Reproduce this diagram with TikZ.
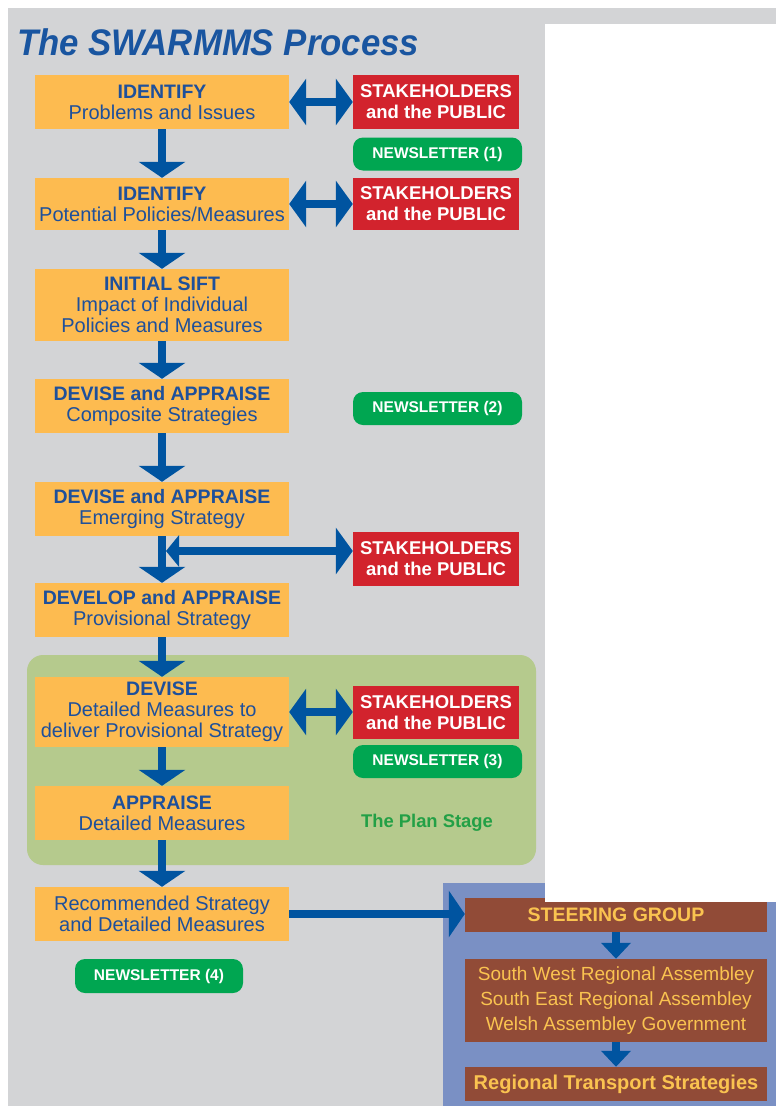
\documentclass[tikz,border=0pt]{standalone}
\usepackage{fontspec}
\setmainfont{Liberation Sans}
\usetikzlibrary{arrows.meta}
\definecolor{bggray}{RGB}{211,212,214}
\definecolor{boxorange}{RGB}{253,187,80}
\definecolor{txtblue}{RGB}{30,80,155}
\definecolor{arrblue}{RGB}{0,84,160}
\definecolor{stkred}{RGB}{210,35,45}
\definecolor{nlgreen}{RGB}{0,166,81}
\definecolor{planfill}{RGB}{181,202,141}
\definecolor{plantext}{RGB}{35,160,70}
\definecolor{sgblue}{RGB}{122,144,196}
\definecolor{sgbrown}{RGB}{145,75,55}
\definecolor{sgtext}{RGB}{250,195,80}
\definecolor{titleblue}{RGB}{25,85,160}
\newcommand\boxhead[1]{{\bfseries\fontsize{19.5}{21}\selectfont #1}}
\begin{document}
\begin{tikzpicture}[x=1pt,y=-1pt,
 procbox/.style={fill=boxorange, text=txtblue, minimum width=254pt, inner sep=0pt, align=center, font=\fontsize{20}{21}\selectfont},
 stakebox/.style={fill=stkred, text=white, minimum width=166pt, minimum height=54pt, inner sep=0pt, align=center, font=\bfseries\fontsize{18.5}{21}\selectfont},
 newsbox/.style={fill=nlgreen, text=white, rounded corners=10pt, minimum width=169pt, minimum height=33pt, inner sep=0pt, font=\bfseries\fontsize{15.5}{17}\selectfont},
 sgbox/.style={fill=sgbrown, text=sgtext, minimum width=302pt, inner sep=0pt, align=center, font=\fontsize{19}{25}\selectfont},
 flow/.style={draw=arrblue, line width=8pt, -{Triangle[width=46pt,length=16pt]}},
 both/.style={draw=arrblue, line width=8pt, {Triangle[width=46pt,length=17pt]}-{Triangle[width=46pt,length=17pt]}},
 tee/.style={draw=arrblue, line width=8pt, {Triangle[width=31pt,length=13pt]}-{Triangle[width=46pt,length=17pt]}},
 smallflow/.style={draw=arrblue, line width=8pt, -{Triangle[width=29pt,length=16pt]}},
]
\useasboundingbox (0,0) rectangle (776,1106);
\fill[white] (0,0) rectangle (776,1106);
\fill[bggray] (8,8) rectangle (776,1106);
\fill[planfill, rounded corners=16pt] (27,655) rectangle (536,865);
\fill[sgblue] (443,883) rectangle (776,1106);

\node[anchor=base west, text=titleblue, inner sep=0pt] (title) at (17,55)
  {\scalebox{0.94}[1]{\fontsize{37}{40}\selectfont\bfseries\itshape The SWARMMS Process}};

% process column
\node[procbox, minimum height=54pt] (p1) at (162,102) {\boxhead{IDENTIFY}\\Problems and Issues};
\node[procbox, minimum height=52pt] (p2) at (162,204) {\boxhead{IDENTIFY}\\Potential Policies/Measures};
\node[procbox, minimum height=72pt] (p3) at (162,305) {\boxhead{INITIAL SIFT}\\Impact of Individual\\Policies and Measures};
\node[procbox, minimum height=54pt] (p4) at (162,406) {\boxhead{DEVISE and APPRAISE}\\Composite Strategies};
\node[procbox, minimum height=54pt] (p5) at (162,509) {\boxhead{DEVISE and APPRAISE}\\Emerging Strategy};
\node[procbox, minimum height=54pt] (p6) at (162,610) {\boxhead{DEVELOP and APPRAISE}\\Provisional Strategy};
\node[procbox, minimum height=70pt] (p7) at (162,712) {\boxhead{DEVISE}\\Detailed Measures to\\deliver Provisional Strategy};
\node[procbox, minimum height=54pt] (p8) at (162,813) {\boxhead{APPRAISE}\\Detailed Measures};
\node[procbox, minimum height=54pt] (p9) at (162,914) {Recommended Strategy\\and Detailed Measures};

% stakeholders
\node[stakebox] (r1) at (436,102) {STAKEHOLDERS\\and the PUBLIC};
\node[stakebox, minimum height=52pt] (r2) at (436,204) {STAKEHOLDERS\\and the PUBLIC};
\node[stakebox] (r3) at (436,559) {STAKEHOLDERS\\and the PUBLIC};
\node[stakebox, minimum height=53pt] (r4) at (436,712.5) {STAKEHOLDERS\\and the PUBLIC};

% newsletters
\node[newsbox] (n1) at (437.5,154) {NEWSLETTER (1)};
\node[newsbox] (n2) at (437.5,408.5) {NEWSLETTER (2)};
\node[newsbox] (n3) at (437.5,761.5) {NEWSLETTER (3)};
\node[newsbox, minimum width=168pt, minimum height=34pt] (n4) at (159,976) {NEWSLETTER (4)};

\node[text=plantext, inner sep=0pt, font=\bfseries\fontsize{18.4}{20}\selectfont] (plan) at (427,823) {The Plan Stage};

% steering group
\node[sgbox, minimum height=34pt, font=\bfseries\fontsize{19.5}{21}\selectfont] (s1) at (616,915) {STEERING GROUP};
\node[sgbox, minimum height=83pt] (s2) at (616,1000.5) {South West Regional Assembley\\South East Regional Assembley\\Welsh Assembley Government};
\node[sgbox, minimum height=34pt, font=\bfseries\fontsize{20}{21}\selectfont] (s3) at (616,1084) {Regional Transport Strategies};

% connectors
\draw[flow] (p1.south) -- (p2.north);
\draw[flow] (p2.south) -- (p3.north);
\draw[flow] (p3.south) -- (p4.north);
\draw[flow] (p4.south) -- (p5.north);
\draw[flow] (p5.south) -- (p6.north);
\draw[flow] (p6.south) -- (p7.north);
\draw[flow] (p7.south) -- (p8.north);
\draw[flow] (p8.south) -- (p9.north);

\draw[both] (p1.east) -- (r1.west);
\draw[both] (p2.east) -- (r2.west);
\coordinate (j5) at (166,551);
\draw[tee] (j5) -- (j5 -| r3.west);
\draw[both] (p7.east) -- (p7.east -| r4.west);

\draw[flow] (p9.east) -- (p9.east -| s1.west);
\draw[smallflow] (s1.south) -- (s2.north);
\draw[smallflow] (s2.south) -- (s3.north);

% white overlay area
\fill[white] (545,24) rectangle (776,902);
\end{tikzpicture}
\end{document}
